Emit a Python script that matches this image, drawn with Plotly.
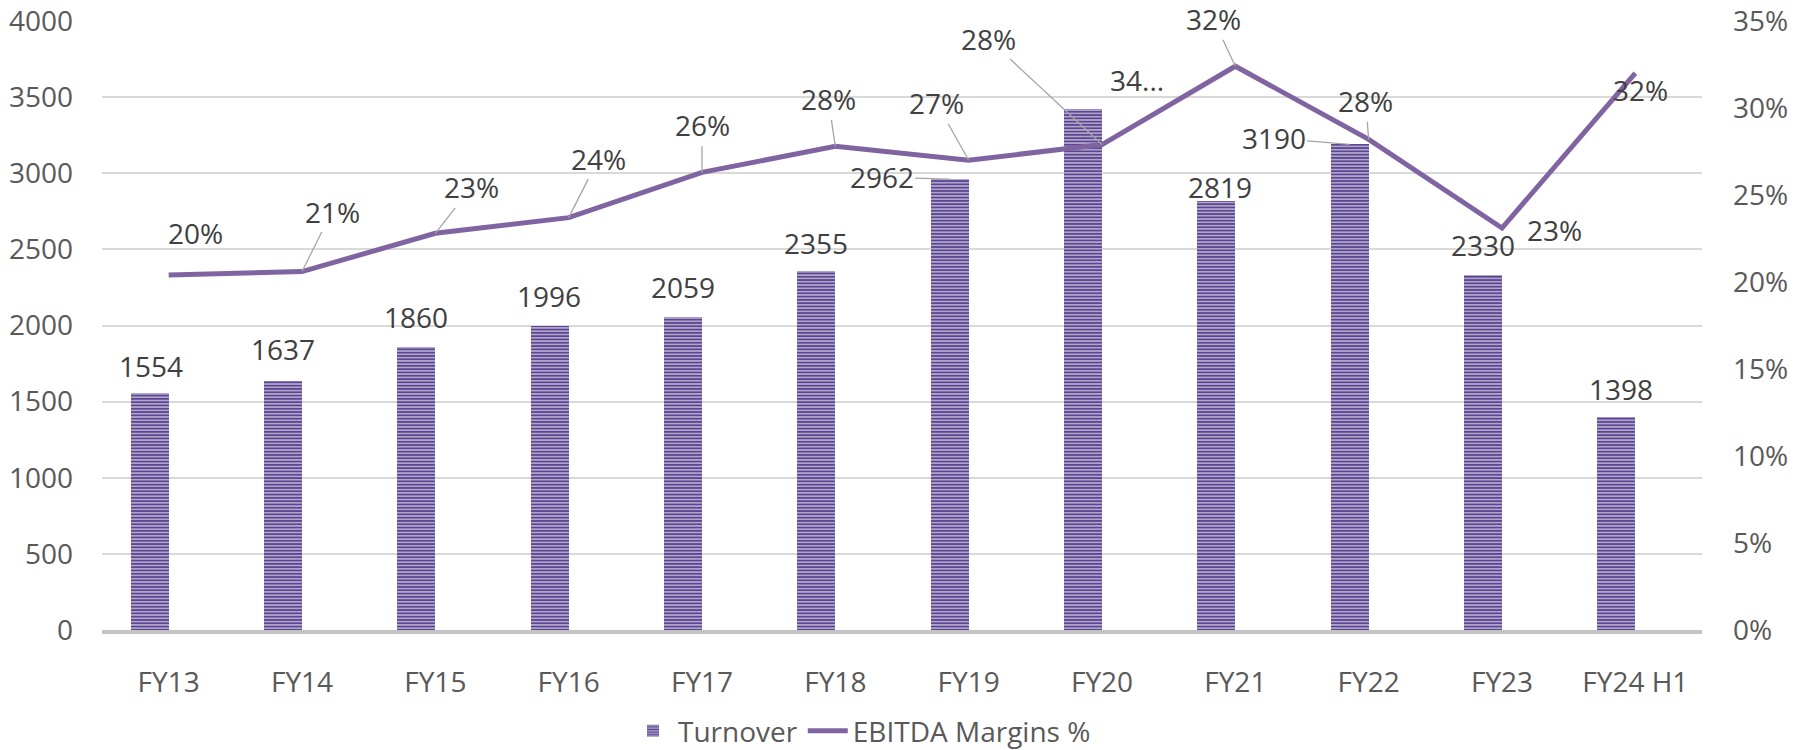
import plotly.graph_objects as go

categories = ["FY13", "FY14", "FY15", "FY16", "FY17", "FY18", "FY19", "FY20", "FY21", "FY22", "FY23", "FY24 H1"]
turnover = [1554, 1637, 1860, 1996, 2059, 2355, 2962, 3425, 2819, 3190, 2330, 1398]
turnover_labels = ["1554", "1637", "1860", "1996", "2059", "2355", "2962", "34...", "2819", "3190", "2330", "1398"]
ebitda = [0.204, 0.206, 0.228, 0.237, 0.263, 0.278, 0.270, 0.279, 0.324, 0.282, 0.231, 0.320]
ebitda_labels = ["20%", "21%", "23%", "24%", "26%", "28%", "27%", "28%", "32%", "28%", "23%", "32%"]
left_ticks = [0, 500, 1000, 1500, 2000, 2500, 3000, 3500, 4000]
right_ticks = [0, 0.05, 0.10, 0.15, 0.20, 0.25, 0.30, 0.35]

FONT = "Open Sans"
FS = 28
PURPLE = "#8064A2"
LABEL = "#404040"
AXIS = "#595959"
LEAD = "#A6A6A6"

fig = go.Figure()
fig.add_trace(go.Bar(
    x=categories, y=turnover, name="Turnover",
    width=0.285, offset=-0.285,
    marker=dict(color="#D6CCE6", line=dict(width=0),
                pattern=dict(shape="-", fgcolor="#5A4690", bgcolor="#D6CCE6",
                             size=3.3, solidity=0.65, fillmode="replace")),
    yaxis="y",
))
fig.add_trace(go.Scatter(
    x=categories, y=ebitda, name="EBITDA Margins %", mode="lines",
    line=dict(color=PURPLE, width=5), yaxis="y2",
))

# bar label placement: (xshift, yshift, arrow offsets or None)
bar_pos = [(-18, 27, None), (-19, 32, None), (-19, 30, None), (-20, 30, None),
           (-19, 30, None), (-19, 28, None), (-19, 0, (-68, -2)), (35, 29, None),
           (-15, 14, None), (-19, 0, (-76, -6)), (-19, 30, None), (-14, 28, None)]
for i, (c, v, t) in enumerate(zip(categories, turnover, turnover_labels)):
    xs, ys, arr = bar_pos[i]
    if arr is None:
        fig.add_annotation(x=c, y=v, xref="x", yref="y", text=t, showarrow=False,
                           xshift=xs, yshift=ys, font=dict(family=FONT, size=FS, color=LABEL))
    else:
        fig.add_annotation(x=c, y=v, xref="x", yref="y", text=t, showarrow=True,
                           xshift=xs, ax=arr[0], ay=arr[1], arrowhead=0, arrowwidth=1.3,
                           arrowcolor=LEAD, standoff=0,
                           font=dict(family=FONT, size=FS, color=LABEL))

# line label placement: ("s", xshift, yshift) or ("a", ax, ay)
line_pos = [("s", 27, 42), ("a", 30, -60), ("a", 36, -46), ("a", 30, -59),
            ("a", 0, -47), ("a", -7, -47), ("a", -32, -57), ("a", -114, -106),
            ("a", -22, -47), ("a", -3, -38), ("s", 52, -2), ("s", 5, -17)]
for i, (c, v, t) in enumerate(zip(categories, ebitda, ebitda_labels)):
    kind, a, b = line_pos[i]
    if kind == "s":
        fig.add_annotation(x=c, y=v, xref="x", yref="y2", text=t, showarrow=False,
                           xshift=a, yshift=b, font=dict(family=FONT, size=FS, color=LABEL))
    else:
        fig.add_annotation(x=c, y=v, xref="x", yref="y2", text=t, showarrow=True,
                           ax=a, ay=b, arrowhead=0, arrowwidth=1.3, arrowcolor=LEAD,
                           standoff=0, font=dict(family=FONT, size=FS, color=LABEL))

fig.update_layout(
    width=1810, height=750,
    margin=dict(l=102, r=108, t=21, b=120, autoexpand=False),
    paper_bgcolor="white", plot_bgcolor="white",
    font=dict(family=FONT, size=FS, color=AXIS),
    bargap=0,
    xaxis=dict(type="category", showgrid=False, showline=True, linecolor="#C4C4C4",
               linewidth=4, ticks="", ticklabelstandoff=24, automargin=False,
               tickfont=dict(family=FONT, size=FS, color=AXIS)),
    yaxis=dict(range=[0, 4000], tickvals=left_ticks, showgrid=True, gridcolor="#D9D9D9",
               gridwidth=1.5, zeroline=False, ticks="", ticklabelstandoff=28, automargin=False,
               ticklabeloverflow="allow",
               tickfont=dict(family=FONT, size=FS, color=AXIS)),
    yaxis2=dict(range=[0, 0.35], tickvals=right_ticks, tickformat=".0%", overlaying="y",
                side="right", showgrid=False, zeroline=False, ticks="", ticklabelstandoff=30,
                automargin=False, ticklabeloverflow="allow",
                tickfont=dict(family=FONT, size=FS, color=AXIS)),
    legend=dict(orientation="h", x=0.475, xanchor="center", y=-0.125, yanchor="top",
                font=dict(family=FONT, size=FS, color=AXIS), itemwidth=40,
                bgcolor="rgba(0,0,0,0)"),
    showlegend=True,
)

fig.write_html("out.html", config={"displayModeBar": False},
               post_script="document.body.style.margin='0';")
